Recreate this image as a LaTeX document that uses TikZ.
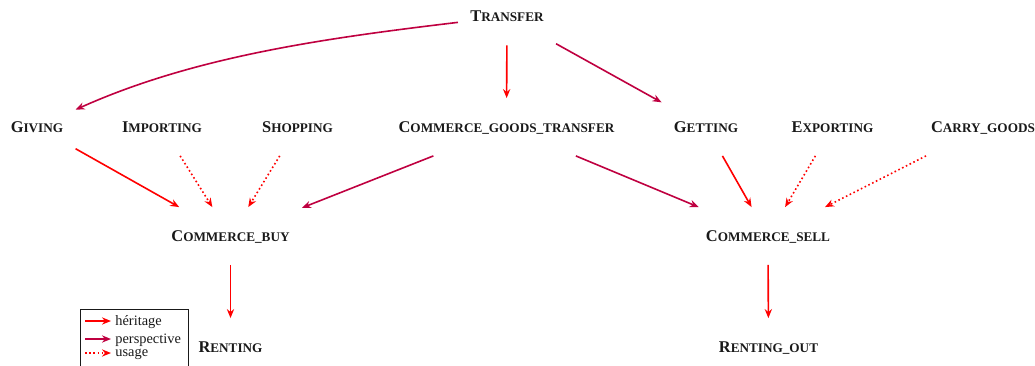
\documentclass[tikz,border=0pt]{standalone}
\usepackage{fontspec}
\setmainfont{Liberation Serif}
\usetikzlibrary{arrows.meta}
\newcommand\fsc[2]{{\fontsize{8.2}{9}\selectfont #1}{\fontsize{6.6}{7}\selectfont #2}}
\begin{document}
\begin{tikzpicture}[x=0.5pt,y=-0.5pt,
  frame/.style={inner xsep=6pt, inner ysep=0pt, minimum height=28.5pt,
    text height=5.4pt, text depth=0pt, font=\bfseries, text=black!90},
  tipstyle/.style={-{Stealth[length=4.5pt,width=3.6pt]}},
  her/.style={draw=red, line width=0.8pt, tipstyle},
  persp/.style={draw=purple, line width=0.8pt, tipstyle},
  usage/.style={draw=red, line width=0.8pt, dash pattern=on 0.8pt off 1.3pt, tipstyle},
  leglabel/.style={anchor=base west, inner sep=0pt, font=\fontsize{7.2}{8}\selectfont, text=black!90}]
\useasboundingbox (0,0) rectangle (1035,365);
% nodes
\node[frame] (transfer) at (507,16.5) {\fsc{T}{RANSFER}};
\node[frame] (giving) at (37,127) {\fsc{G}{IVING}};
\node[frame] (importing) at (162,127) {\fsc{I}{MPORTING}};
\node[frame] (shopping) at (297.5,127) {\fsc{S}{HOPPING}};
\node[frame] (cgt) at (506.5,127) {\fsc{C}{OMMERCE\_GOODS\_TRANSFER}};
\node[frame] (getting) at (706,127) {\fsc{G}{ETTING}};
\node[frame] (exporting) at (832.5,127) {\fsc{E}{XPORTING}};
\node[frame] (carry) at (983,127) {\fsc{C}{ARRY\_GOODS}};
\node[frame] (buy) at (230.5,236) {\fsc{C}{OMMERCE\_BUY}};
\node[frame] (sell) at (768,236) {\fsc{C}{OMMERCE\_SELL}};
\node[frame] (renting) at (230.5,347) {\fsc{R}{ENTING}};
\node[frame] (rentingout) at (768.5,347) {\fsc{R}{ENTING\_OUT}};
% connectors
\draw[persp] (transfer) .. controls (327,38) and (195,56) .. (giving);
\draw[her] (transfer) -- (cgt);
\draw[persp] (transfer) -- (getting);
\draw[her] (giving) -- (buy);
\draw[usage] (importing) -- (buy);
\draw[usage] (shopping) -- (buy);
\draw[persp] (cgt) -- (buy);
\draw[persp] (cgt) -- (sell);
\draw[her] (getting) -- (sell);
\draw[usage] (exporting) -- (sell);
\draw[usage] (carry) -- (sell);
\draw[her] (buy) -- (renting);
\draw[her] (sell) -- (rentingout);
% legend
\node[draw=black!90, line width=0.6pt, anchor=north west, minimum width=54pt,
  minimum height=29pt, inner sep=0pt] (legend) at (80,309) {};
\coordinate (h1) at (85,321);  \coordinate (h2) at (111,321);
\coordinate (p1) at (85,339);  \coordinate (p2) at (111,339);
\coordinate (u1) at (85,353);  \coordinate (u2) at (111,353);
\draw[her] (h1) -- (h2);
\draw[persp] (p1) -- (p2);
\draw[usage] (u1) -- (u2);
\node[leglabel] (lh) at (115,325) {héritage};
\node[leglabel] (lp) at (115,343) {perspective};
\node[leglabel] (lu) at (115,356.5) {usage};
\end{tikzpicture}
\end{document}
